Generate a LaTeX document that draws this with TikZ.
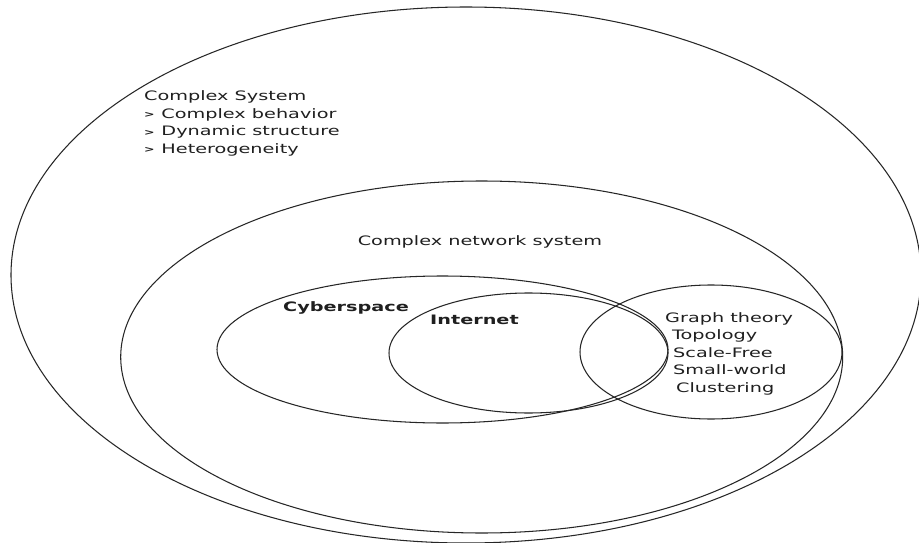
\documentclass[tikz,border=0pt]{standalone}
\usepackage{fontspec}
\setmainfont{DejaVu Sans}
\usepackage{graphicx}
% labels are set wide, with letters stretched sideways
\newcommand{\widetxt}[1]{\scalebox{1.48}[1]{#1}}
% small bold arrowhead bullet
\newcommand{\chev}{\raisebox{0.5pt}{\fontsize{8.5}{8.5}\selectfont\bfseries >}\hspace{0.35em}}
\begin{document}
\begin{tikzpicture}[x=1pt,y=-1pt,
  ring/.style={draw=black!85,line width=1.05pt},
  lbl/.style={inner sep=0pt,text=black!88,font=\fontsize{13}{17.5}\selectfont,align=left},
  boldlbl/.style={lbl,font=\fontsize{13}{17.5}\selectfont\bfseries}]
\useasboundingbox (0,0) rectangle (919,543);
\fill[white] (0,0) rectangle (919,543);

% nested sets
\draw[ring] (466,275) ellipse [x radius=455, y radius=268];
\draw[ring] (481.7,357) ellipse [x radius=361, y radius=176];
\draw[ring] (442.5,349.5) ellipse [x radius=225.5, y radius=73.5];
\draw[ring] (528.5,353) ellipse [x radius=139.5, y radius=60];
\draw[ring] (711,352) ellipse [x radius=131, y radius=67];

% labels
\node[lbl,anchor=north west] (sys) at (144,90.5)
  {\widetxt{Complex System}\\
   \widetxt{\chev Complex behavior}\\
   \widetxt{\chev Dynamic structure}\\
   \widetxt{\chev Heterogeneity}};
\node[lbl,anchor=west] (net) at (357.6,242) {\widetxt{Complex network system}};
\node[boldlbl,anchor=west] (cyb) at (283,307.5) {\widetxt{Cyberspace}};
\node[boldlbl,anchor=west] (inet) at (430,320) {\widetxt{Internet}};
\node[lbl,anchor=north west] (graph) at (665,312)
  {\widetxt{Graph theory}\\
   \hspace*{7pt}\widetxt{Topology}\\
   \hspace*{8pt}\widetxt{Scale-Free}\\
   \hspace*{8pt}\widetxt{Small-world}\\
   \hspace*{11pt}\widetxt{Clustering}};
\end{tikzpicture}
\end{document}
